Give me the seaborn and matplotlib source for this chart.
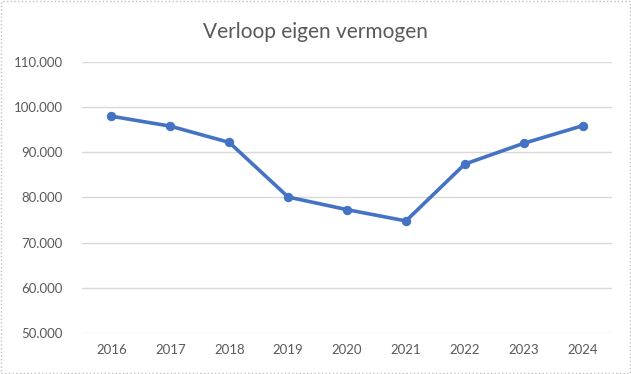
import numpy as np
import pandas as pd
import matplotlib
matplotlib.use('Agg')
import matplotlib.pyplot as plt
import seaborn as sns
from matplotlib.ticker import FuncFormatter

# data
years = [2016, 2017, 2018, 2019, 2020, 2021, 2022, 2023, 2024]
eigen_vermogen = [98000, 95800, 92200, 80100, 77300, 74800, 87400, 92000, 95900]
y_ticks = [50000, 60000, 70000, 80000, 90000, 100000, 110000]

df = pd.DataFrame({'jaar': years, 'eigen_vermogen': eigen_vermogen})

sns.set_style('white')
plt.rcParams['font.family'] = ['Lato', 'DejaVu Sans']

fig = plt.figure(figsize=(6.31, 3.74), dpi=100)
ax = fig.add_axes([0.130, 0.110, 0.840, 0.724])

sns.lineplot(data=df, x='jaar', y='eigen_vermogen', ax=ax, color='#4472C4',
             linewidth=2.6, marker='o', markersize=6, markeredgecolor='#4472C4')

ax.set_xlim(years[0] - 0.5, years[-1] + 0.5)
ax.set_ylim(y_ticks[0], y_ticks[-1])
ax.set_xticks(years)
ax.set_xticklabels([str(y) for y in years])
ax.set_yticks(y_ticks)
ax.yaxis.set_major_formatter(FuncFormatter(lambda v, p: f'{v:,.0f}'.replace(',', '.')))
ax.grid(axis='y', color='#D9D9D9', linewidth=1)
ax.set_axisbelow(True)
for s in ax.spines.values():
    s.set_visible(False)
ax.tick_params(axis='both', length=0, labelsize=9.5, labelcolor='#595959')
ax.tick_params(axis='y', pad=14)
ax.tick_params(axis='x', pad=8)
ax.set_xlabel('')
ax.set_ylabel('')

fig.text(0.5, 0.915, 'Verloop eigen vermogen', ha='center', va='center',
         fontsize=15, color='#595959')

# light border around the chart area
fig.patches.append(plt.Rectangle((0.002, 0.003), 0.996, 0.994, transform=fig.transFigure,
                                 fill=False, edgecolor='#BFBFBF', linewidth=1, linestyle=':'))

fig.savefig('out.png', dpi=100, facecolor='white')
